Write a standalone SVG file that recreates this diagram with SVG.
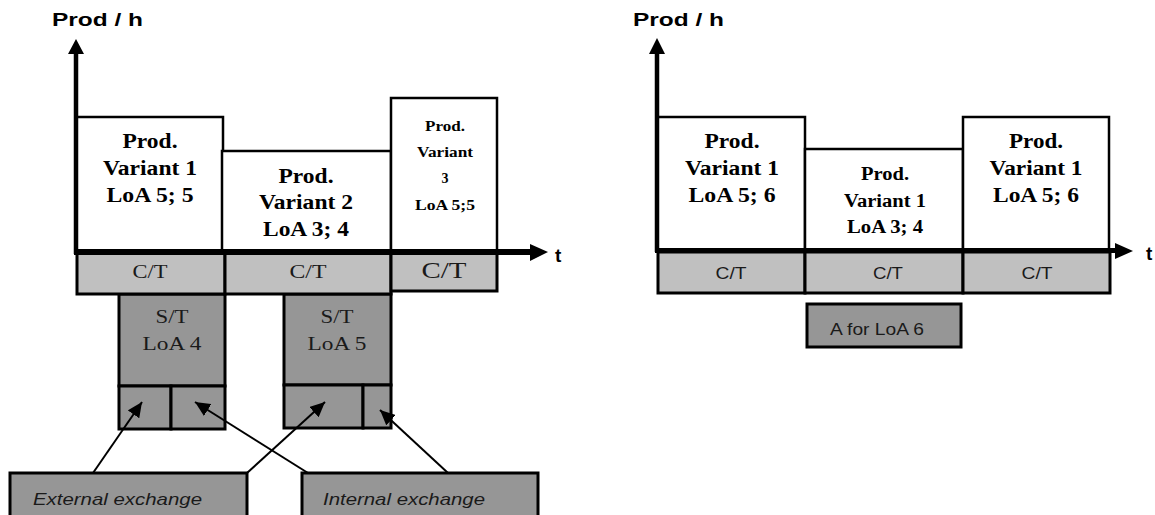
<svg xmlns="http://www.w3.org/2000/svg" width="1155" height="515" viewBox="0 0 1155 515">
<style>
.bg{fill:#ffffff}
.prod{fill:#ffffff;stroke:#000;stroke-width:2.5}
.ct{fill:#c0c0c0;stroke:#000;stroke-width:3}
.dk{fill:#969696;stroke:#000;stroke-width:3}
.ax{stroke:#000;fill:none}
.pt{font-family:"Liberation Serif","Times New Roman",serif;font-weight:bold;fill:#000;text-anchor:middle}
.st{font-family:"Liberation Serif","Times New Roman",serif;fill:#1a1a1a;text-anchor:middle}
.ss{font-family:"Liberation Sans",Arial,sans-serif;fill:#1a1a1a}
.lab{font-family:"Liberation Sans",Arial,sans-serif;font-weight:bold;fill:#000}
.con{stroke:#000;stroke-width:2;fill:none}
</style>
<defs>
<marker id="ah" markerUnits="userSpaceOnUse" markerWidth="16" markerHeight="14" refX="15" refY="7" orient="auto">
<path d="M0,0 L15,7 L0,14 Z" fill="#000"/>
</marker>
</defs>
<rect class="bg" x="0" y="0" width="1155" height="515"/>

<!-- LEFT DIAGRAM -->
<g id="left-axes">
<text class="lab" x="52" y="26" font-size="19" textLength="91" lengthAdjust="spacingAndGlyphs">Prod / h</text>
<line class="ax" x1="76" y1="52" x2="76" y2="254" stroke-width="4.5"/>
<polygon points="76,39 68,54 84,54" fill="#000"/>
<text class="lab" x="555" y="262" font-size="19">t</text>
</g>

<g id="l-prod1">
<rect class="prod" x="77" y="117" width="146" height="134"/>
<text class="pt" x="150" y="148" font-size="20" textLength="55" lengthAdjust="spacingAndGlyphs">Prod.</text>
<text class="pt" x="150" y="175" font-size="20" textLength="94" lengthAdjust="spacingAndGlyphs">Variant 1</text>
<text class="pt" x="150" y="202" font-size="20" textLength="87" lengthAdjust="spacingAndGlyphs">LoA 5; 5</text>
</g>
<g id="l-prod2">
<rect class="prod" x="222" y="151" width="169" height="100"/>
<text class="pt" x="306" y="183" font-size="20" textLength="55" lengthAdjust="spacingAndGlyphs">Prod.</text>
<text class="pt" x="306" y="209" font-size="20" textLength="94" lengthAdjust="spacingAndGlyphs">Variant 2</text>
<text class="pt" x="306" y="236" font-size="20" textLength="86" lengthAdjust="spacingAndGlyphs">LoA 3; 4</text>
</g>
<g id="l-prod3">
<rect class="prod" x="391" y="98" width="106" height="153"/>
<text class="pt" x="445" y="131" font-size="14" textLength="40" lengthAdjust="spacingAndGlyphs">Prod.</text>
<text class="pt" x="445" y="157" font-size="14" textLength="56" lengthAdjust="spacingAndGlyphs">Variant</text>
<text class="pt" x="445" y="183" font-size="14">3</text>
<text class="pt" x="445" y="210" font-size="14" textLength="60" lengthAdjust="spacingAndGlyphs">LoA 5;5</text>
</g>

<g id="l-st4">
<rect class="dk" x="119" y="294" width="106" height="92"/>
<rect class="dk" x="119" y="386" width="52" height="43"/>
<rect class="dk" x="171" y="386" width="54" height="43"/>
<text class="st" x="172" y="323" font-size="18" textLength="33" lengthAdjust="spacingAndGlyphs">S/T</text>
<text class="st" x="172" y="350" font-size="18" textLength="59" lengthAdjust="spacingAndGlyphs">LoA 4</text>
</g>
<g id="l-st5">
<rect class="dk" x="284" y="294" width="107" height="91"/>
<rect class="dk" x="284" y="385" width="79" height="43"/>
<rect class="dk" x="363" y="385" width="28" height="43"/>
<text class="st" x="337" y="323" font-size="18" textLength="33" lengthAdjust="spacingAndGlyphs">S/T</text>
<text class="st" x="337" y="350" font-size="18" textLength="59" lengthAdjust="spacingAndGlyphs">LoA 5</text>
</g>

<g id="l-ct1">
<rect class="ct" x="77" y="253" width="148" height="41"/>
<text class="st" x="150" y="278" font-size="18" textLength="35" lengthAdjust="spacingAndGlyphs">C/T</text>
</g>
<g id="l-ct2">
<rect class="ct" x="225" y="253" width="166" height="41"/>
<text class="st" x="308" y="278" font-size="18" textLength="37" lengthAdjust="spacingAndGlyphs">C/T</text>
</g>
<g id="l-ct3">
<rect class="ct" x="391" y="253" width="106" height="38"/>
<text class="st" x="444" y="278" font-size="24" textLength="45" lengthAdjust="spacingAndGlyphs">C/T</text>
</g>

<g id="left-xaxis">
<line class="ax" x1="74" y1="252" x2="531" y2="252" stroke-width="6"/>
<polygon points="530,244 548,252 530,261" fill="#000"/>
</g>

<g id="ext">
<rect class="dk" x="10" y="473" width="237" height="60"/>
<text class="ss" x="33" y="505" font-size="17" font-style="italic" textLength="169" lengthAdjust="spacingAndGlyphs">External exchange</text>
</g>
<g id="int">
<rect class="dk" x="302" y="473" width="236" height="60"/>
<text class="ss" x="323" y="505" font-size="17" font-style="italic" textLength="162" lengthAdjust="spacingAndGlyphs">Internal exchange</text>
</g>

<g id="connectors">
<line class="con" x1="93" y1="473" x2="142" y2="402" marker-end="url(#ah)"/>
<line class="con" x1="308" y1="473" x2="195" y2="402" marker-end="url(#ah)"/>
<line class="con" x1="247" y1="473" x2="325" y2="402" marker-end="url(#ah)"/>
<line class="con" x1="448" y1="473" x2="380" y2="410" marker-end="url(#ah)"/>
</g>

<!-- RIGHT DIAGRAM -->
<g id="right-axes">
<text class="lab" x="633" y="26" font-size="19" textLength="91" lengthAdjust="spacingAndGlyphs">Prod / h</text>
<line class="ax" x1="657" y1="52" x2="657" y2="252" stroke-width="4.5"/>
<polygon points="657,38 649,54 665,54" fill="#000"/>
<text class="lab" x="1146" y="260" font-size="19">t</text>
</g>

<g id="r-prodA">
<rect class="prod" x="658" y="117" width="147" height="133"/>
<text class="pt" x="732" y="148" font-size="20" textLength="55" lengthAdjust="spacingAndGlyphs">Prod.</text>
<text class="pt" x="732" y="175" font-size="20" textLength="94" lengthAdjust="spacingAndGlyphs">Variant 1</text>
<text class="pt" x="732" y="202" font-size="20" textLength="87" lengthAdjust="spacingAndGlyphs">LoA 5; 6</text>
</g>
<g id="r-prodB">
<rect class="prod" x="805" y="149" width="158" height="101"/>
<text class="pt" x="885" y="180" font-size="18" textLength="48" lengthAdjust="spacingAndGlyphs">Prod.</text>
<text class="pt" x="885" y="207" font-size="18" textLength="82" lengthAdjust="spacingAndGlyphs">Variant 1</text>
<text class="pt" x="885" y="233" font-size="18" textLength="76" lengthAdjust="spacingAndGlyphs">LoA 3; 4</text>
</g>
<g id="r-prodC">
<rect class="prod" x="963" y="117" width="146" height="133"/>
<text class="pt" x="1036" y="148" font-size="20" textLength="54" lengthAdjust="spacingAndGlyphs">Prod.</text>
<text class="pt" x="1036" y="175" font-size="20" textLength="93" lengthAdjust="spacingAndGlyphs">Variant 1</text>
<text class="pt" x="1036" y="202" font-size="20" textLength="86" lengthAdjust="spacingAndGlyphs">LoA 5; 6</text>
</g>

<g id="r-ct1">
<rect class="ct" x="658" y="252" width="147" height="41"/>
<text class="ss" x="731" y="279" font-size="16" text-anchor="middle" textLength="31" lengthAdjust="spacingAndGlyphs">C/T</text>
</g>
<g id="r-ct2">
<rect class="ct" x="805" y="252" width="158" height="41"/>
<text class="ss" x="888" y="279" font-size="16" text-anchor="middle" textLength="30" lengthAdjust="spacingAndGlyphs">C/T</text>
</g>
<g id="r-ct3">
<rect class="ct" x="963" y="252" width="147" height="41"/>
<text class="ss" x="1037" y="279" font-size="16" text-anchor="middle" textLength="31" lengthAdjust="spacingAndGlyphs">C/T</text>
</g>

<g id="right-xaxis">
<line class="ax" x1="655" y1="250.5" x2="1116" y2="250.5" stroke-width="5"/>
<polygon points="1115,243 1133,251 1115,259" fill="#000"/>
</g>

<g id="r-a6">
<rect class="dk" x="807" y="304" width="154" height="43"/>
<text class="ss" x="830" y="335" font-size="17" textLength="94" lengthAdjust="spacingAndGlyphs">A for LoA 6</text>
</g>
</svg>
